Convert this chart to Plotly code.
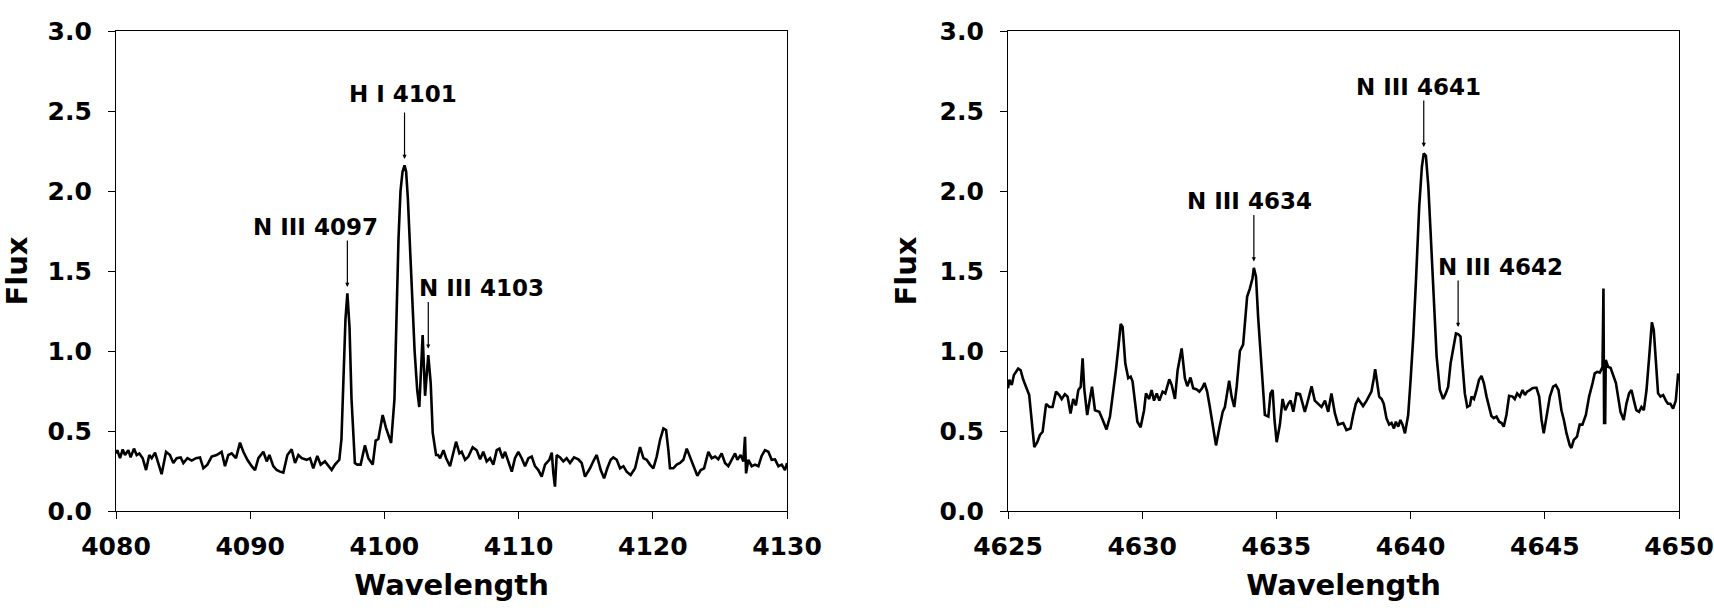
import plotly.graph_objects as go

# ---------------- data ----------------
LEFT_WAVELENGTH = [
    4080.00, 4080.10, 4080.30, 4080.50, 4080.67, 4080.92, 4081.09, 4081.34, 4081.54, 4081.74,
    4081.99, 4082.24, 4082.48, 4082.66, 4082.91, 4083.15, 4083.40, 4083.73, 4084.02, 4084.27,
    4084.52, 4084.82, 4085.02, 4085.32, 4085.64, 4085.96, 4086.26, 4086.51, 4086.81, 4087.13,
    4087.50, 4087.87, 4088.12, 4088.37, 4088.62, 4088.94, 4089.24, 4089.49, 4089.79, 4090.11,
    4090.36, 4090.61, 4090.98, 4091.23, 4091.43, 4091.72, 4091.97, 4092.22, 4092.47, 4092.77,
    4093.09, 4093.34, 4093.59, 4093.84, 4094.21, 4094.46, 4094.70, 4095.00, 4095.25, 4095.57,
    4095.82, 4096.07, 4096.32, 4096.64, 4096.80, 4096.95, 4097.10, 4097.24, 4097.40, 4097.55,
    4097.70, 4097.80, 4097.98, 4098.23, 4098.55, 4098.80, 4099.13, 4099.35, 4099.55, 4099.87,
    4100.12, 4100.37, 4100.50, 4100.75, 4100.90, 4101.05, 4101.20, 4101.35, 4101.50, 4101.62,
    4101.75, 4101.90, 4102.05, 4102.25, 4102.45, 4102.60, 4102.85, 4103.03, 4103.27, 4103.45,
    4103.60, 4103.85, 4104.00, 4104.15, 4104.40, 4104.60, 4104.89, 4105.34, 4105.59, 4105.76,
    4106.01, 4106.26, 4106.58, 4106.88, 4107.13, 4107.37, 4107.62, 4107.87, 4108.12, 4108.37,
    4108.57, 4108.81, 4108.99, 4109.24, 4109.49, 4109.73, 4109.98, 4110.23, 4110.48, 4110.73,
    4110.98, 4111.22, 4111.47, 4111.72, 4111.97, 4112.29, 4112.47, 4112.59, 4112.71, 4112.84,
    4113.09, 4113.33, 4113.58, 4113.83, 4114.13, 4114.45, 4114.70, 4114.95, 4115.32, 4115.62,
    4115.82, 4116.12, 4116.37, 4116.61, 4116.86, 4117.06, 4117.31, 4117.56, 4117.81, 4118.05,
    4118.35, 4118.68, 4118.92, 4119.05, 4119.30, 4119.54, 4119.79, 4120.04, 4120.29, 4120.54,
    4120.79, 4120.99, 4121.16, 4121.28, 4121.53, 4121.78, 4122.03, 4122.28, 4122.53, 4122.77,
    4123.02, 4123.32, 4123.57, 4123.82, 4124.14, 4124.39, 4124.64, 4124.88, 4125.13, 4125.38,
    4125.63, 4125.88, 4126.13, 4126.30, 4126.55, 4126.75, 4126.87, 4126.95, 4127.12, 4127.37,
    4127.62, 4127.87, 4128.11, 4128.36, 4128.61, 4128.86, 4129.11, 4129.36, 4129.61, 4129.85,
    4130.00,
]
LEFT_FLUX = [
    0.36, 0.38, 0.33, 0.385, 0.35, 0.38, 0.335, 0.39, 0.35, 0.36,
    0.33, 0.256, 0.35, 0.33, 0.365, 0.30, 0.23, 0.37, 0.35, 0.30,
    0.33, 0.335, 0.30, 0.33, 0.315, 0.33, 0.335, 0.267, 0.29, 0.34,
    0.35, 0.37, 0.28, 0.35, 0.36, 0.33, 0.427, 0.37, 0.32, 0.28,
    0.256, 0.33, 0.37, 0.31, 0.35, 0.28, 0.256, 0.246, 0.24, 0.35,
    0.385, 0.30, 0.35, 0.33, 0.32, 0.33, 0.267, 0.344, 0.29, 0.31,
    0.28, 0.256, 0.29, 0.32, 0.45, 0.80, 1.20, 1.36, 1.15, 0.70,
    0.40, 0.30, 0.29, 0.29, 0.41, 0.33, 0.29, 0.44, 0.45, 0.60,
    0.52, 0.45, 0.425, 0.70, 1.20, 1.70, 2.00, 2.12, 2.16, 2.12,
    1.95, 1.65, 1.35, 1.00, 0.75, 0.65, 1.10, 0.72, 0.975, 0.80,
    0.49, 0.35, 0.35, 0.33, 0.38, 0.33, 0.28, 0.433, 0.36, 0.37,
    0.32, 0.34, 0.398, 0.38, 0.323, 0.37, 0.31, 0.33, 0.29, 0.38,
    0.39, 0.33, 0.37, 0.30, 0.246, 0.33, 0.37, 0.33, 0.28, 0.33,
    0.34, 0.28, 0.256, 0.215, 0.29, 0.32, 0.365, 0.235, 0.152, 0.35,
    0.335, 0.31, 0.33, 0.30, 0.335, 0.323, 0.30, 0.215, 0.267, 0.32,
    0.35, 0.256, 0.204, 0.267, 0.32, 0.335, 0.32, 0.267, 0.28, 0.246,
    0.225, 0.267, 0.344, 0.40, 0.33, 0.32, 0.29, 0.267, 0.34, 0.444,
    0.516, 0.506, 0.38, 0.267, 0.267, 0.29, 0.30, 0.32, 0.39, 0.34,
    0.29, 0.22, 0.256, 0.267, 0.37, 0.33, 0.34, 0.323, 0.36, 0.30,
    0.28, 0.32, 0.36, 0.32, 0.35, 0.31, 0.464, 0.235, 0.32, 0.28,
    0.29, 0.28, 0.344, 0.38, 0.37, 0.32, 0.323, 0.28, 0.29, 0.256,
    0.30,
]

RIGHT_WAVELENGTH = [
    4625.00, 4625.05, 4625.14, 4625.22, 4625.38, 4625.47, 4625.57, 4625.70, 4625.79, 4625.88,
    4625.98, 4626.09, 4626.19, 4626.29, 4626.42, 4626.54, 4626.66, 4626.79, 4626.91, 4627.00,
    4627.12, 4627.22, 4627.33, 4627.43, 4627.53, 4627.62, 4627.71, 4627.78, 4627.84, 4627.95,
    4628.05, 4628.13, 4628.24, 4628.40, 4628.53, 4628.67, 4628.80, 4628.92, 4629.02, 4629.11,
    4629.20, 4629.27, 4629.37, 4629.48, 4629.57, 4629.64, 4629.73, 4629.82, 4629.94, 4630.07,
    4630.14, 4630.26, 4630.35, 4630.44, 4630.54, 4630.64, 4630.76, 4630.86, 4631.01, 4631.10,
    4631.22, 4631.32, 4631.47, 4631.59, 4631.68, 4631.80, 4631.90, 4632.03, 4632.13, 4632.23,
    4632.32, 4632.42, 4632.52, 4632.65, 4632.75, 4632.87, 4633.00, 4633.08, 4633.17, 4633.24,
    4633.33, 4633.43, 4633.52, 4633.64, 4633.76, 4633.83, 4633.91, 4634.01, 4634.11, 4634.16,
    4634.24, 4634.32, 4634.45, 4634.57, 4634.70, 4634.78, 4634.86, 4634.93, 4635.01, 4635.13,
    4635.23, 4635.33, 4635.44, 4635.53, 4635.63, 4635.75, 4635.88, 4635.97, 4636.06, 4636.19,
    4636.31, 4636.43, 4636.56, 4636.68, 4636.81, 4636.93, 4637.05, 4637.18, 4637.30, 4637.49,
    4637.61, 4637.76, 4637.86, 4637.96, 4638.05, 4638.13, 4638.23, 4638.36, 4638.46, 4638.54,
    4638.63, 4638.68, 4638.73, 4638.83, 4638.92, 4639.00, 4639.10, 4639.20, 4639.29, 4639.38,
    4639.45, 4639.54, 4639.62, 4639.70, 4639.79, 4639.91, 4640.00, 4640.10, 4640.20, 4640.32,
    4640.42, 4640.49, 4640.57, 4640.66, 4640.74, 4640.84, 4640.97, 4641.09, 4641.21, 4641.31,
    4641.40, 4641.49, 4641.59, 4641.69, 4641.77, 4641.86, 4641.93, 4642.02, 4642.11, 4642.21,
    4642.27, 4642.36, 4642.455, 4642.55, 4642.64, 4642.73, 4642.83, 4642.93, 4643.01, 4643.10,
    4643.20, 4643.30, 4643.39, 4643.47, 4643.57, 4643.67, 4643.80, 4643.88, 4643.97, 4644.07,
    4644.17, 4644.26, 4644.34, 4644.44, 4644.54, 4644.63, 4644.69, 4644.79, 4644.88, 4644.96,
    4645.06, 4645.19, 4645.31, 4645.41, 4645.51, 4645.62, 4645.71, 4645.81, 4645.93, 4645.99,
    4646.08, 4646.20, 4646.30, 4646.40, 4646.53, 4646.65, 4646.78, 4646.86, 4646.95, 4647.05,
    4647.15, 4647.185, 4647.21, 4647.25, 4647.27, 4647.36, 4647.45, 4647.55, 4647.65, 4647.73,
    4647.82, 4647.94, 4648.04, 4648.14, 4648.23, 4648.32, 4648.41, 4648.51, 4648.60, 4648.69,
    4648.79, 4648.89, 4648.99, 4649.06, 4649.13, 4649.22, 4649.31, 4649.41, 4649.51, 4649.59,
    4649.68, 4649.78, 4649.88, 4649.97,
]
RIGHT_FLUX = [
    0.767, 0.82, 0.787, 0.85, 0.89, 0.88, 0.82, 0.77, 0.725, 0.57,
    0.40, 0.43, 0.475, 0.495, 0.67, 0.65, 0.65, 0.746, 0.725, 0.70,
    0.73, 0.715, 0.61, 0.70, 0.66, 0.756, 0.777, 0.954, 0.767, 0.60,
    0.715, 0.777, 0.63, 0.62, 0.569, 0.51, 0.59, 0.735, 0.88, 1.02,
    1.17, 1.15, 0.923, 0.83, 0.84, 0.81, 0.69, 0.558, 0.523, 0.63,
    0.735, 0.70, 0.756, 0.69, 0.735, 0.69, 0.746, 0.735, 0.823, 0.787,
    0.70, 0.88, 1.016, 0.83, 0.78, 0.834, 0.767, 0.76, 0.746, 0.767,
    0.80, 0.746, 0.65, 0.516, 0.41, 0.516, 0.62, 0.65, 0.756, 0.815,
    0.715, 0.65, 0.777, 1.0, 1.04, 1.21, 1.34, 1.39, 1.455, 1.52,
    1.465, 1.21, 0.923, 0.60, 0.59, 0.735, 0.756, 0.569, 0.43, 0.54,
    0.70, 0.63, 0.67, 0.69, 0.62, 0.735, 0.73, 0.67, 0.62, 0.70,
    0.78, 0.69, 0.67, 0.65, 0.69, 0.62, 0.735, 0.61, 0.54, 0.55,
    0.506, 0.516, 0.60, 0.67, 0.70, 0.68, 0.656, 0.69, 0.725, 0.746,
    0.83, 0.886, 0.83, 0.715, 0.70, 0.67, 0.58, 0.54, 0.55, 0.516,
    0.558, 0.527, 0.569, 0.54, 0.485, 0.60, 0.82, 1.09, 1.44, 1.90,
    2.15, 2.235, 2.22, 2.03, 1.76, 1.38, 0.965, 0.756, 0.70, 0.735,
    0.777, 0.923, 1.006, 1.11, 1.106, 1.09, 0.923, 0.735, 0.65, 0.66,
    0.715, 0.70, 0.756, 0.82, 0.844, 0.80, 0.715, 0.64, 0.594, 0.58,
    0.59, 0.558, 0.55, 0.527, 0.60, 0.72, 0.715, 0.70, 0.735, 0.715,
    0.756, 0.725, 0.746, 0.756, 0.767, 0.77, 0.77, 0.715, 0.569, 0.485,
    0.59, 0.715, 0.777, 0.787, 0.756, 0.63, 0.569, 0.485, 0.41, 0.394,
    0.444, 0.465, 0.54, 0.54, 0.60, 0.715, 0.80, 0.86, 0.87, 0.865,
    0.90, 1.39, 0.55, 0.55, 0.944, 0.90, 0.895, 0.85, 0.80, 0.715,
    0.62, 0.569, 0.67, 0.735, 0.756, 0.69, 0.63, 0.62, 0.65, 0.63,
    0.756, 0.965, 1.18, 1.13, 0.923, 0.735, 0.715, 0.725, 0.69, 0.67,
    0.67, 0.64, 0.69, 0.86,
]

LEFT_LABELS = ["N III 4097", "H I 4101", "N III 4103"]
LEFT_LABEL_WAVELENGTH = [4097.24, 4101.5, 4103.27]
RIGHT_LABELS = ["N III 4634", "N III 4641", "N III 4642"]
RIGHT_LABEL_WAVELENGTH = [4634.16, 4640.49, 4641.77]

LEFT_XTICKS = [4080, 4090, 4100, 4110, 4120, 4130]
RIGHT_XTICKS = [4625, 4630, 4635, 4640, 4645, 4650]
Y_TICKS = [0.0, 0.5, 1.0, 1.5, 2.0, 2.5, 3.0]

# ---------------- styling ----------------
FONT = "DejaVu Sans"
W, H = 1714, 608
ML, MR, MT, MB = 116, 35, 31, 97
PW = W - ML - MR
LEFT_DOMAIN = [0.0, (787 - ML) / PW]
RIGHT_DOMAIN = [(1008 - ML) / PW, 1.0]
# label text offset (pixels) from arrow tip: (dx, dy up)
LEFT_TEXT_OFFSETS = [(-32, 60), (-2, 65), (53, 61)]
RIGHT_TEXT_OFFSETS = [(-4, 60), (-5, 60), (42, 60)]

fig = go.Figure()
fig.add_trace(go.Scatter(x=LEFT_WAVELENGTH, y=LEFT_FLUX, mode="lines",
                         line=dict(color="black", width=2.6), xaxis="x", yaxis="y",
                         showlegend=False))
fig.add_trace(go.Scatter(x=RIGHT_WAVELENGTH, y=RIGHT_FLUX, mode="lines",
                         line=dict(color="black", width=2.6), xaxis="x2", yaxis="y2",
                         showlegend=False))


def xaxis_style(domain, ticks, anchor):
    return dict(domain=domain, anchor=anchor, range=[ticks[0], ticks[-1]],
                tickvals=ticks, ticktext=[str(t) for t in ticks],
                showgrid=False, zeroline=False, showline=True, mirror=True,
                linecolor="black", linewidth=1.4, ticks="outside", ticklen=7,
                tickwidth=1.4, tickcolor="black", ticklabelstandoff=6,
                tickfont=dict(family=FONT, size=25, color="black", weight="bold"),
                title=dict(text="Wavelength", standoff=14,
                           font=dict(family=FONT, size=29, color="black", weight="bold")),
                automargin=False)


def yaxis_style(anchor):
    return dict(domain=[0, 1], anchor=anchor, range=[0, 3],
                tickvals=Y_TICKS, ticktext=[f"{v:.1f}" for v in Y_TICKS],
                showgrid=False, zeroline=False, showline=True, mirror=True,
                linecolor="black", linewidth=1.4, ticks="outside", ticklen=7,
                tickwidth=1.4, tickcolor="black", ticklabelstandoff=11,
                tickfont=dict(family=FONT, size=25, color="black", weight="bold"),
                title=dict(text="Flux", standoff=14,
                           font=dict(family=FONT, size=29, color="black", weight="bold")),
                automargin=False)


fig.update_layout(
    width=W, height=H, autosize=False,
    margin=dict(l=ML, r=MR, t=MT, b=MB),
    template="none",
    paper_bgcolor="white", plot_bgcolor="white",
    xaxis=xaxis_style(LEFT_DOMAIN, LEFT_XTICKS, "y"),
    yaxis=yaxis_style("x"),
    xaxis2=xaxis_style(RIGHT_DOMAIN, RIGHT_XTICKS, "y2"),
    yaxis2=yaxis_style("x2"),
)


def peak_near(wl, xs, ys, half=0.15):
    return max(y for x, y in zip(xs, ys) if abs(x - wl) <= half)


annotations = []
for labels, wls, offs, xs, ys, xr, yr in [
    (LEFT_LABELS, LEFT_LABEL_WAVELENGTH, LEFT_TEXT_OFFSETS, LEFT_WAVELENGTH, LEFT_FLUX, "x", "y"),
    (RIGHT_LABELS, RIGHT_LABEL_WAVELENGTH, RIGHT_TEXT_OFFSETS, RIGHT_WAVELENGTH, RIGHT_FLUX, "x2", "y2"),
]:
    for lab, wl, (dx, dy) in zip(labels, wls, offs):
        tip = peak_near(wl, xs, ys) + 0.04
        annotations.append(dict(x=wl, y=tip, xref=xr, yref=yr, text="", showarrow=True,
                                ax=0, ay=-48, axref="pixel", ayref="pixel",
                                arrowhead=2, arrowsize=0.7, arrowwidth=1.2,
                                arrowcolor="black", standoff=0, startstandoff=0))
        annotations.append(dict(x=wl, y=tip, xref=xr, yref=yr, text=lab, showarrow=False,
                                xshift=dx, yshift=dy, xanchor="center", yanchor="middle",
                                font=dict(family=FONT, size=23, color="black", weight="bold")))
fig.update_layout(annotations=annotations)

fig.write_html("out.html", config={"displayModeBar": False},
               post_script="document.body.style.margin='0';document.body.style.padding='0';")
